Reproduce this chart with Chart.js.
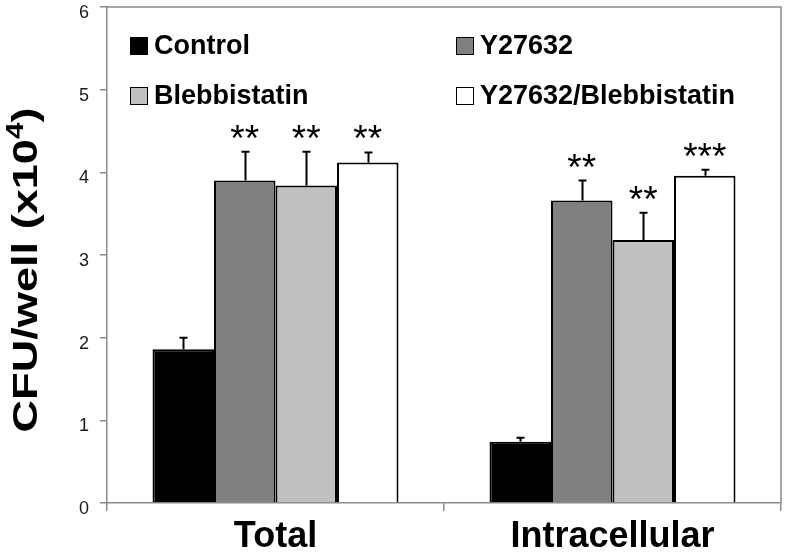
<!DOCTYPE html>
<html lang="en">
<head>
    <meta charset="UTF-8">
    <title>CFU per well</title>
    <script src="https://cdn.jsdelivr.net/npm/chart.js"></script>
    <style>
        html, body {
            margin: 0;
            padding: 0;
            background: #fff;
            overflow: hidden;
        }
        .chart-container {
            width: 788px;
            height: 553px;
        }
    </style>
</head>
<body>
    <div class="chart-container">
        <canvas id="cfuChart"></canvas>
    </div>

    <script>
        // values (CFU/well x10^4)
        const categories = ['Total', 'Intracellular'];
        const seriesNames = ['Control', 'Y27632', 'Blebbistatin', 'Y27632/Blebbistatin'];
        const controlVals = [1.86, 0.74];
        const y27632Vals = [3.90, 3.66];
        const blebbVals = [3.84, 3.18];
        const comboVals = [4.12, 3.96];
        const controlErr = [0.14, 0.05];
        const y27632Err = [0.35, 0.24];
        const blebbErr = [0.41, 0.33];
        const comboErr = [0.12, 0.07];
        const controlSig = ['', ''];
        const y27632Sig = ['**', '**'];
        const blebbSig = ['**', '**'];
        const comboSig = ['**', '***'];
        const yTicks = [0, 1, 2, 3, 4, 5, 6];

        const fontFamily = "'Liberation Sans', Arial, sans-serif";
        const axisGrey = '#8a8a8a';

        const seriesColors = ['#000000', '#808080', '#c0c0c0', '#ffffff'];
        const seriesVals = [controlVals, y27632Vals, blebbVals, comboVals];
        const seriesErr = [controlErr, y27632Err, blebbErr, comboErr];
        const seriesSig = [controlSig, y27632Sig, blebbSig, comboSig];

        const datasets = seriesNames.map((name, i) => ({
            label: name,
            data: seriesVals[i],
            err: seriesErr[i],
            sig: seriesSig[i],
            backgroundColor: seriesColors[i],
            borderColor: '#000000',
            borderWidth: 2,
            borderSkipped: 'bottom',
            categoryPercentage: 0.73,
            barPercentage: 1.0
        }));

        // frame, error bars, stars, legend and y title
        const extras = {
            id: 'extras',
            afterDatasetsDraw(chart) {
                const ctx = chart.ctx;
                const area = chart.chartArea;
                const yScale = chart.scales.y;

                ctx.save();
                ctx.strokeStyle = axisGrey;
                ctx.lineWidth = 1.5;
                ctx.beginPath();
                ctx.moveTo(area.left, area.top);
                ctx.lineTo(area.right, area.top);
                ctx.lineTo(area.right, area.bottom);
                ctx.stroke();

                chart.data.datasets.forEach((ds, di) => {
                    const meta = chart.getDatasetMeta(di);
                    meta.data.forEach((bar, j) => {
                        const top = yScale.getPixelForValue(ds.data[j] + ds.err[j]);
                        const x = Math.round(bar.x) + 0.5;
                        ctx.strokeStyle = '#000';
                        ctx.lineWidth = 2;
                        ctx.beginPath();
                        ctx.moveTo(x, bar.y);
                        ctx.lineTo(x, top);
                        ctx.moveTo(x - 4, top);
                        ctx.lineTo(x + 4, top);
                        ctx.stroke();
                        if (ds.sig[j]) {
                            ctx.fillStyle = '#000';
                            ctx.font = '37px ' + fontFamily;
                            ctx.textAlign = 'center';
                            ctx.textBaseline = 'alphabetic';
                            ctx.fillText(ds.sig[j], bar.x, top - 1);
                        }
                    });
                });

                // legend, two columns inside the plot area
                ctx.font = 'bold 27px ' + fontFamily;
                ctx.textBaseline = 'middle';
                ctx.textAlign = 'left';
                chart.data.datasets.forEach((ds, i) => {
                    const col = i % 2;
                    const row = Math.floor(i / 2);
                    const x0 = area.left + 23 + col * 326;
                    const yc = area.top + 39 + row * 50;
                    ctx.fillStyle = ds.backgroundColor;
                    ctx.fillRect(x0, yc - 9, 18, 18);
                    ctx.strokeStyle = '#000';
                    ctx.lineWidth = 1;
                    ctx.strokeRect(x0 + 0.5, yc - 8.5, 17, 17);
                    ctx.fillStyle = '#000';
                    ctx.fillText(ds.label, x0 + 24, yc + 1);
                });

                // y axis title, stretched along its length like the original
                const mid = (area.top + area.bottom) / 2 + 15;
                ctx.translate(25, mid);
                ctx.rotate(-Math.PI / 2);
                ctx.font = 'bold 35px ' + fontFamily;
                ctx.textBaseline = 'middle';
                const part1 = 'CFU/well (x10';
                const sup = '4';
                const part2 = ')';
                const w1 = ctx.measureText(part1).width;
                const w3 = ctx.measureText(part2).width;
                ctx.font = 'bold 23px ' + fontFamily;
                const w2 = ctx.measureText(sup).width;
                const total = w1 + w2 + w3;
                const stretch = 325 / total;
                ctx.scale(stretch, 1);
                const start = -total / 2;
                ctx.textAlign = 'left';
                ctx.font = 'bold 35px ' + fontFamily;
                ctx.fillText(part1, start, 2);
                ctx.fillText(part2, start + w1 + w2, 2);
                ctx.font = 'bold 23px ' + fontFamily;
                ctx.fillText(sup, start + w1, -8);
                ctx.restore();
            }
        };

        const ctx = document.getElementById('cfuChart').getContext('2d');
        const cfuChart = new Chart(ctx, {
            type: 'bar',
            data: {
                labels: categories,
                datasets: datasets
            },
            options: {
                responsive: true,
                maintainAspectRatio: false,
                animation: false,
                layout: {
                    padding: { top: 7, right: 7, left: 0, bottom: 0 }
                },
                scales: {
                    x: {
                        afterFit: (scale) => {
                            scale.height = 50;
                            scale.paddingLeft = 0;
                            scale.paddingRight = 0;
                        },
                        grid: {
                            offset: true,
                            drawOnChartArea: false,
                            tickLength: 8,
                            color: axisGrey,
                            lineWidth: 1.5
                        },
                        border: { color: axisGrey, width: 1.5 },
                        ticks: {
                            color: '#000',
                            padding: 4,
                            font: { family: fontFamily, size: 36, weight: 'bold' }
                        }
                    },
                    y: {
                        min: 0,
                        max: 6,
                        afterFit: (scale) => {
                            scale.width = 107;
                            scale.paddingTop = 0;
                            scale.paddingBottom = 0;
                        },
                        afterBuildTicks: (scale) => {
                            scale.ticks = yTicks.map(v => ({ value: v }));
                        },
                        grid: {
                            drawOnChartArea: false,
                            tickLength: 7,
                            color: axisGrey,
                            lineWidth: 1.5
                        },
                        border: { color: axisGrey, width: 1.5 },
                        ticks: {
                            color: '#1a1a1a',
                            padding: 11,
                            labelOffset: 6,
                            font: { family: fontFamily, size: 18 }
                        }
                    }
                },
                plugins: {
                    legend: { display: false },
                    tooltip: { enabled: false }
                }
            },
            plugins: [extras]
        });
    </script>
</body>
</html>
